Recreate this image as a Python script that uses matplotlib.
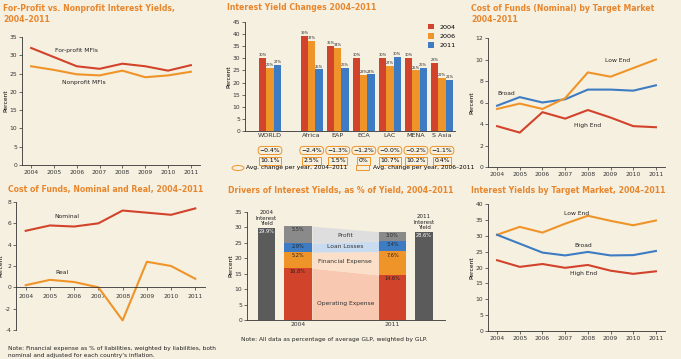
import numpy as np
import matplotlib.pyplot as plt
from matplotlib.patches import Ellipse, Rectangle

# ---- data ----
years = [2004, 2005, 2006, 2007, 2008, 2009, 2010, 2011]

forprofit = [32.0, 29.5, 27.0, 26.3, 27.7, 27.0, 25.8, 27.3]
nonprofit = [27.0, 26.0, 24.8, 24.5, 25.8, 24.0, 24.5, 25.5]

regions = ["WORLD", "Africa", "EAP", "ECA", "LAC", "MENA", "S Asia"]
yield_2004 = [30.2, 39.2, 35.0, 30.2, 30.2, 30.3, 28.0]
yield_2006 = [26.0, 37.3, 34.3, 23.3, 27.0, 25.0, 22.0]
yield_2011 = [27.2, 25.4, 26.2, 23.4, 30.5, 26.2, 21.0]
change_04_11 = ["\u22120.4%", "\u22122.4%", "\u22121.3%", "\u22121.2%", "\u22120.0%", "\u22120.2%", "\u22121.1%"]
change_06_11 = ["10.1%", "2.5%", "1.5%", "0%", "10.7%", "10.2%", "0.4%"]

cof_broad = [5.7, 6.5, 6.0, 6.3, 7.2, 7.2, 7.1, 7.6]
cof_low = [5.4, 5.9, 5.4, 6.4, 8.8, 8.4, 9.2, 10.0]
cof_high = [3.8, 3.2, 5.1, 4.5, 5.3, 4.6, 3.8, 3.7]

nominal = [5.3, 5.8, 5.7, 6.0, 7.2, 7.0, 6.8, 7.4]
real = [0.2, 0.7, 0.5, 0.0, -3.1, 2.4, 2.0, 0.8]

driver_names = ["Operating Expense", "Financial Expense", "Loan Losses", "Profit"]
drivers_2004 = [16.8, 5.2, 2.9, 5.5]
drivers_2011 = [14.6, 7.6, 3.4, 3.0]
interest_yield = [29.9, 28.6]

iy_low = [30.3, 32.8, 31.0, 33.8, 36.3, 34.7, 33.3, 34.8]
iy_broad = [30.3, 27.5, 24.7, 23.8, 24.9, 23.8, 23.9, 25.2]
iy_high = [22.3, 20.2, 21.1, 19.9, 20.8, 19.0, 18.0, 18.8]

# ---- style ----
RED = "#d2432b"
ORANGE = "#ef9428"
BLUE = "#3d7cc2"
GRAY = "#8a8a8a"
DARK = "#5b5b5b"
BG = "#f6f0e1"
TITLE = "#e8862c"

plt.rcParams["font.family"] = ["DejaVu Sans"]
W, H = 681, 359
fig = plt.figure(figsize=(W / 100, H / 100), dpi=100, facecolor=BG)


def box(l, t, r, b):
    return [l / W, 1 - b / H, (r - l) / W, (b - t) / H]


def style(ax):
    ax.set_facecolor("none")
    for s in ["top", "right"]:
        ax.spines[s].set_visible(False)
    for s in ["left", "bottom"]:
        ax.spines[s].set_linewidth(0.6)
        ax.spines[s].set_color("#333333")
    ax.tick_params(labelsize=4.3, length=2, width=0.5, pad=1.5, colors="#333333")
    ax.set_ylabel("Percent", fontsize=4.3, labelpad=1)


def title(x, y, s):
    fig.text(x / W, 1 - y / H, s, fontsize=5.6, fontweight="bold", color=TITLE,
             va="top", ha="left", linespacing=1.35)


def lab(ax, x, y, s):
    ax.text(x, y, s, fontsize=4.3, ha="center", va="center", color="#222222")


# ---- top-left ----
title(3, 4, "For-Profit vs. Nonprofit Interest Yields,\n2004\u20132011")
ax = fig.add_axes(box(22, 37, 200, 165))
style(ax)
ax.plot(years, forprofit, color=RED, lw=1.5)
ax.plot(years, nonprofit, color=ORANGE, lw=1.5)
ax.set_ylim(0, 35)
ax.set_yticks(range(0, 36, 5))
ax.set_xlim(2003.6, 2011.4)
ax.set_xticks(years)
lab(ax, 2006.0, 31.3, "For-profit MFIs")
lab(ax, 2006.3, 22.5, "Nonprofit MFIs")

# ---- top-middle: bars ----
title(227, 3, "Interest Yield Changes 2004\u20132011")
ax = fig.add_axes(box(245, 22, 455, 131))
style(ax)
xpos = np.array([0, 1.6, 2.6, 3.6, 4.6, 5.6, 6.6])
bw = 0.28
for k, (vals, c, name) in enumerate([(yield_2004, RED, "2004"),
                                     (yield_2006, ORANGE, "2006"),
                                     (yield_2011, BLUE, "2011")]):
    xs = xpos + (k - 1) * bw
    ax.bar(xs, vals, width=bw, color=c, label=name)
    for x, v in zip(xs, vals):
        ax.text(x, v + 0.3, f"{v:.0f}%", fontsize=2.6, ha="center", va="bottom", color="#222222")
ax.set_ylim(0, 45)
ax.set_yticks(range(0, 46, 5))
ax.set_xlim(-0.96, 7.1)
ax.set_xticks(xpos)
ax.set_xticklabels(regions, fontsize=4.6)
ax.tick_params(axis="x", length=0)
ax.legend(loc="upper right", fontsize=4.6, frameon=False, handlelength=1.0,
          handleheight=1.0, borderaxespad=0.2, labelspacing=0.5, bbox_to_anchor=(1.02, 1.02))
for x, s1, s2 in zip(xpos, change_04_11, change_06_11):
    ax.annotate(s1, (x, 0), xytext=(0, -14), textcoords="offset points", fontsize=4.4,
                ha="center", va="center", annotation_clip=False,
                bbox=dict(boxstyle="round,pad=0.25,rounding_size=0.6", fc="none", ec=ORANGE, lw=0.7))
    ax.annotate(s2, (x, 0), xytext=(0, -21.5), textcoords="offset points", fontsize=4.4,
                ha="center", va="center", annotation_clip=False,
                bbox=dict(boxstyle="square,pad=0.25", fc="none", ec=ORANGE, lw=0.7))
fig.patches.append(Ellipse((238 / W, 1 - 168 / H), 12 / W, 5 / H,
                           transform=fig.transFigure, fc="none", ec=ORANGE, lw=0.7))
fig.text(246 / W, 1 - 168 / H, "Avg. change per year, 2004\u20132011", fontsize=4.3, va="center")
fig.patches.append(Rectangle((356 / W, 1 - 170.5 / H), 13 / W, 5 / H,
                             transform=fig.transFigure, fc="none", ec=ORANGE, lw=0.7))
fig.text(373 / W, 1 - 168 / H, "Avg. change per year, 2006\u20132011", fontsize=4.3, va="center")

# ---- top-right ----
title(471, 4, "Cost of Funds (Nominal) by Target Market\n2004\u20132011")
ax = fig.add_axes(box(488, 38, 665, 167))
style(ax)
ax.plot(years, cof_broad, color=BLUE, lw=1.5)
ax.plot(years, cof_low, color=ORANGE, lw=1.5)
ax.plot(years, cof_high, color=RED, lw=1.5)
ax.set_ylim(0, 12)
ax.set_yticks(range(0, 13, 2))
ax.set_xlim(2003.6, 2011.4)
ax.set_xticks(years)
lab(ax, 2004.4, 6.8, "Broad")
lab(ax, 2009.3, 9.9, "Low End")
lab(ax, 2008.0, 3.9, "High End")

# ---- bottom-left ----
title(8, 185, "Cost of Funds, Nominal and Real, 2004\u20132011")
ax = fig.add_axes(box(16, 202, 205, 330))
style(ax)
ax.plot(years, nominal, color=RED, lw=1.5)
ax.plot(years, real, color=ORANGE, lw=1.5)
ax.set_ylim(-4, 8)
ax.set_yticks(range(-4, 9, 2))
ax.set_yticklabels([str(v) for v in range(-4, 9, 2)])
ax.set_xlim(2003.6, 2011.4)
ax.set_xticks(years)
ax.spines["bottom"].set_position(("data", 0))
ax.tick_params(axis="x", pad=3)
lab(ax, 2005.7, 6.6, "Nominal")
lab(ax, 2005.5, 1.4, "Real")
fig.text(8 / W, 1 - 346 / H,
         "Note: Financial expense as % of liabilities, weighted by liabilities, both\n"
         "nominal and adjusted for each country's inflation.",
         fontsize=4.2, va="top", color="#222222", linespacing=1.5)

# ---- bottom-middle: drivers ----
title(228, 186, "Drivers of Interest Yields, as % of Yield, 2004\u20132011")
ax = fig.add_axes(box(247, 212, 445, 320))
style(ax)
band_colors = ["#f8c9b0", "#fbdfc8", "#c9dbf0", "#dedede"]
seg_colors = [RED, ORANGE, BLUE, GRAY]
x04, x11 = 1.05, 4.2
sw = 0.93
b04 = np.concatenate([[0], np.cumsum(drivers_2004)])
b11 = np.concatenate([[0], np.cumsum(drivers_2011)])
for i in range(4):
    ax.fill_between([x04 + sw / 2, x11 - sw / 2], [b04[i], b11[i]], [b04[i + 1], b11[i + 1]],
                    color=band_colors[i], lw=0)
    ax.bar(x04, drivers_2004[i], bottom=b04[i], width=sw, color=seg_colors[i])
    ax.bar(x11, drivers_2011[i], bottom=b11[i], width=sw, color=seg_colors[i])
    ax.text(x04, b04[i + 1] - 0.4, f"{drivers_2004[i]:.1f}%", fontsize=3.6, ha="center", va="top", color="#222222")
    ax.text(x11, b11[i + 1] - 0.4, f"{drivers_2011[i]:.1f}%", fontsize=3.6, ha="center", va="top", color="#222222")
    mid = ((b04[i] + b04[i + 1]) / 2 + (b11[i] + b11[i + 1]) / 2) / 2
    if i == 0:
        mid -= 2.5
    ax.text((x04 + x11) / 2, mid, driver_names[i], fontsize=4.3, ha="center", va="center", color="#333333")
for x, v, yr in [(0.0, interest_yield[0], "2004"), (5.25, interest_yield[1], "2011")]:
    ax.bar(x, v, width=0.57, color=DARK)
    ax.text(x, v - 0.5, f"{v:.1f}%", fontsize=3.6, ha="center", va="top", color="white")
    ax.text(x, v + 0.5, f"{yr}\nInterest\nYield", fontsize=4.0, ha="center", va="bottom",
            color="#222222", linespacing=1.1)
ax.set_ylim(0, 35)
ax.set_yticks(range(0, 36, 5))
ax.set_xlim(-0.65, 5.95)
ax.set_xticks([x04, x11])
ax.set_xticklabels(["2004", "2011"])
ax.tick_params(axis="x", length=0)
fig.text(241 / W, 1 - 340 / H, "Note: All data as percentage of average GLP, weighted by GLP.",
         fontsize=4.2, va="center", color="#222222")

# ---- bottom-right ----
title(471, 186, "Interest Yields by Target Market, 2004\u20132011")
ax = fig.add_axes(box(488, 204, 665, 331))
style(ax)
ax.plot(years, iy_low, color=ORANGE, lw=1.5)
ax.plot(years, iy_broad, color=BLUE, lw=1.5)
ax.plot(years, iy_high, color=RED, lw=1.5)
ax.set_ylim(0, 40)
ax.set_yticks(range(0, 41, 5))
ax.set_xlim(2003.6, 2011.4)
ax.set_xticks(years)
lab(ax, 2007.5, 37.0, "Low End")
lab(ax, 2007.8, 26.9, "Broad")
lab(ax, 2007.8, 18.1, "High End")

fig.savefig("out.png", dpi=100, facecolor=BG)
